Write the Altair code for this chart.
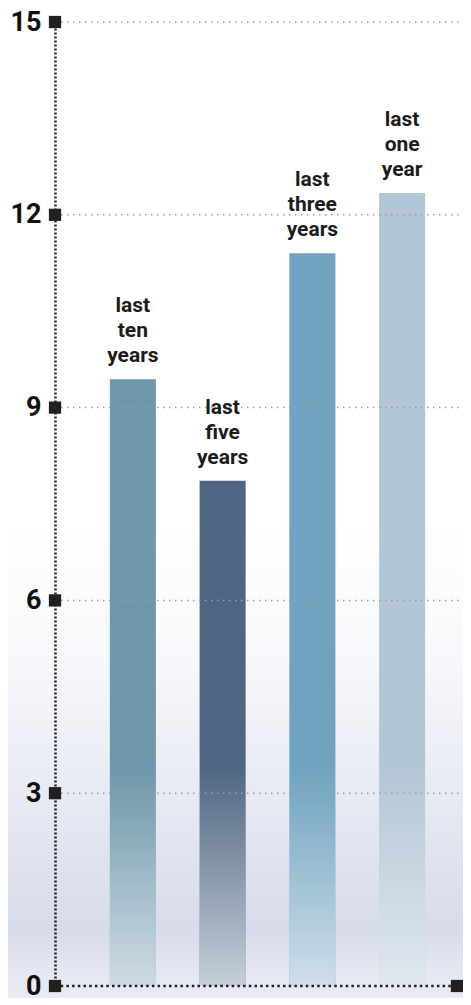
import altair as alt
import pandas as pd

categories = ["last ten years", "last five years", "last three years", "last one year"]
label_lines = ["last\nten\nyears", "last\nfive\nyears", "last\nthree\nyears", "last\none\nyear"]
values = [9.44, 7.86, 11.40, 12.34]
colors = ["#6e97aa", "#4f6682", "#6fa3c0", "#b3c6d5"]
tick_values = [0, 3, 6, 9, 12, 15]

FONT = "Roboto"
W, H = 408, 964
AXIS_END = 402

df = pd.DataFrame({"cat": categories, "label": label_lines, "value": values, "color": colors})
ticks_df = pd.DataFrame({"t": tick_values})
grid_df = pd.DataFrame({"t": [t for t in tick_values if t > 0]})

xs = alt.X("cat:N", sort=categories, axis=None,
           scale=alt.Scale(range=[33, 392], paddingInner=0.487, paddingOuter=0.2435))
yscale = alt.Scale(domain=[0, 15], nice=False, zero=True)

bg_grad = {"gradient": "linear", "x1": 0, "y1": 0, "x2": 0, "y2": 1,
           "stops": [{"offset": 0, "color": "#ffffff"},
                     {"offset": 0.52, "color": "#ffffff"},
                     {"offset": 0.66, "color": "#f7f8fb"},
                     {"offset": 0.8, "color": "#e7e9f3"},
                     {"offset": 0.93, "color": "#d8dbea"},
                     {"offset": 0.97, "color": "#e4e6f1"},
                     {"offset": 1, "color": "#e8eaf4"}]}

fade_grad = {"gradient": "linear", "x1": 0, "y1": 0, "x2": 0, "y2": 1,
             "stops": [{"offset": 0, "color": "rgba(240,243,248,0)"},
                       {"offset": 1, "color": "rgba(240,243,248,0.74)"}]}

base = alt.Chart(df)

background = alt.Chart(pd.DataFrame({"a": [0]})).mark_rect(fill=bg_grad).encode(
    x=alt.value(-47), x2=alt.value(W), y=alt.value(-14), y2=alt.value(H + 12)
)

bars = base.mark_bar().encode(
    x=xs,
    y=alt.Y("value:Q", scale=yscale,
            axis=alt.Axis(values=tick_values, format="d", grid=False, ticks=False, domain=True,
                          domainDash=[2, 2], domainColor="#222222", domainWidth=2.5,
                          labelFont=FONT, labelFontSize=27, labelFontWeight="bold",
                          labelColor="#111111", labelPadding=14, title=None, zindex=1)),
    y2=alt.datum(0),
    color=alt.Color("color:N", scale=None, legend=None),
)

fade = base.mark_bar(fill=fade_grad).encode(
    x=xs, y=alt.datum(3.4, scale=yscale), y2=alt.datum(0)
)

grid = alt.Chart(grid_df).mark_rule(color="#9a9ea8", strokeWidth=1.5, strokeDash=[1.5, 4.5]).encode(
    y=alt.Y("t:Q", scale=yscale), x=alt.value(0), x2=alt.value(W)
)

labels = base.mark_text(baseline="alphabetic", dy=-67, lineBreak="\n", lineHeight=25,
                        font=FONT, fontSize=21, fontWeight="bold", color="#1c1c1c").encode(
    x=xs, y=alt.Y("value:Q", scale=yscale), text="label:N"
)

xaxis = alt.Chart(pd.DataFrame({"t": [0]})).mark_rule(
    color="#222222", strokeWidth=2.5, strokeDash=[2.5, 3.2]).encode(
    y=alt.Y("t:Q", scale=yscale), x=alt.value(0), x2=alt.value(AXIS_END)
)

squares = alt.Chart(ticks_df).mark_square(size=150, color="#231f20", opacity=1).encode(
    y=alt.Y("t:Q", scale=yscale), x=alt.value(0)
)

end_square = alt.Chart(pd.DataFrame({"t": [0]})).mark_square(size=150, color="#231f20", opacity=1).encode(
    y=alt.Y("t:Q", scale=yscale), x=alt.value(AXIS_END)
)

chart = alt.layer(background, bars, fade, grid, labels, xaxis, squares, end_square).properties(
    width=W, height=H,
    autosize=alt.AutoSizeParams(type="none"),
    padding={"left": 47, "top": 14, "right": 0, "bottom": 12},
).configure_view(stroke=None).configure(background="#ffffff")

chart.save("out.html", embed_options={"renderer": "svg", "actions": False})
